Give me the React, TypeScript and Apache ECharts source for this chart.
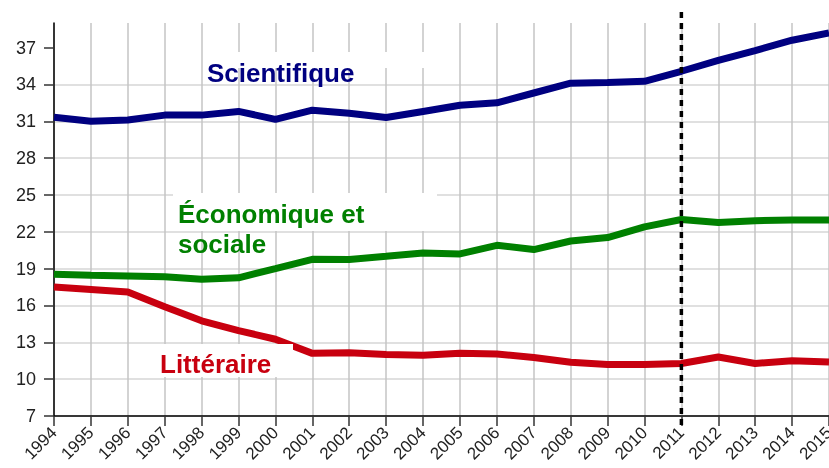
import React, { useEffect, useRef } from "react";
import * as echarts from "echarts";

const years = ["1994","1995","1996","1997","1998","1999","2000","2001","2002","2003","2004","2005","2006","2007","2008","2009","2010","2011","2012","2013","2014","2015"];
const scientifique = [31.33,31.0,31.1,31.5,31.5,31.8,31.15,31.9,31.65,31.3,31.8,32.3,32.5,33.3,34.1,34.15,34.25,35.07,35.95,36.75,37.6,38.2];
const economique = [18.55,18.46,18.4,18.33,18.14,18.25,19.0,19.76,19.74,20.0,20.28,20.2,20.9,20.55,21.25,21.53,22.4,23.0,22.75,22.9,22.95,22.95];
const litteraire = [17.5,17.3,17.1,15.9,14.75,13.95,13.25,12.1,12.15,12.0,11.95,12.1,12.05,11.77,11.37,11.2,11.2,11.28,11.8,11.28,11.5,11.4];
const yTicks = [7,10,13,16,19,22,25,28,31,34,37];
const markerYear = "2011";

const FONT = "'Liberation Sans', Arial, sans-serif";

export default function App() {
  const ref = useRef<HTMLDivElement>(null);
  useEffect(() => {
    if (!ref.current) return;
    const chart = echarts.init(ref.current, null, { renderer: "svg" });
    const mkLine = (name: string, data: number[], color: string) => ({
      name,
      type: "line",
      data,
      symbol: "none",
      z: 3,
      lineStyle: { color, width: 7 },
      itemStyle: { color },
    });
    chart.setOption({
      animation: false,
      grid: { left: 54, right: 0, top: 23, bottom: 52, containLabel: false, outerBoundsMode: "none" },
      xAxis: {
        type: "category",
        data: years,
        boundaryGap: false,
        axisLine: { lineStyle: { color: "#000", width: 1.5 } },
        axisTick: { show: true, interval: 0, length: 10, lineStyle: { color: "#333", width: 1.5 } },
        axisLabel: { interval: 0, rotate: 45, fontSize: 17, color: "#222", fontFamily: FONT, margin: 14, hideOverlap: false },
        splitLine: { show: true, interval: 0, lineStyle: { color: "#c4c4c4", width: 1.5 } },
      },
      yAxis: {
        type: "value",
        min: 7,
        max: 39,
        interval: 3,
        axisLine: { show: true, lineStyle: { color: "#000", width: 1.5 } },
        axisTick: { show: true, length: 10, customValues: yTicks, lineStyle: { color: "#333", width: 1.5 } },
        axisLabel: { customValues: yTicks, fontSize: 18, color: "#222", fontFamily: FONT, margin: 18 },
        splitLine: { show: true, showMaxLine: false, lineStyle: { color: "#d6d6d6", width: 1.5 } },
      },
      series: [
        mkLine("Littéraire", litteraire, "#c8000f"),
        mkLine("Économique et sociale", economique, "#008000"),
        mkLine("Scientifique", scientifique, "#000080"),
      ],
    });
    const mx = chart.convertToPixel({ xAxisIndex: 0 }, markerYear) as number;
    const txt = (x: number, y: number, text: string, fill: string) => ({
      type: "text",
      z: 110,
      x,
      y,
      style: { text, fill, font: `bold 26px ${FONT}`, textAlign: "left", textVerticalAlign: "middle", verticalAlign: "middle" },
    });
    const box = (x: number, y: number, w: number, h: number) => ({
      type: "rect",
      z: 100,
      shape: { x, y, width: w, height: h },
      style: { fill: "#fff" },
    });
    chart.setOption({
      graphic: [
        box(203, 52, 227, 16),
        box(173, 193, 264, 38),
        box(158, 344, 135, 33),
        txt(207, 73, "Scientifique", "#000080"),
        txt(178, 214, "Économique et", "#008000"),
        txt(178, 243.5, "sociale", "#008000"),
        txt(160, 364, "Littéraire", "#c8000f"),
        {
          type: "line",
          z: 120,
          shape: { x1: mx, y1: 12, x2: mx, y2: 427 },
          style: { stroke: "#000", lineWidth: 3.5, lineDash: [6, 5] },
        },
      ],
    });
    return () => chart.dispose();
  }, []);
  return <div ref={ref} style={{ position: "fixed", left: 0, top: 0, width: 829, height: 468 }} />;
}
